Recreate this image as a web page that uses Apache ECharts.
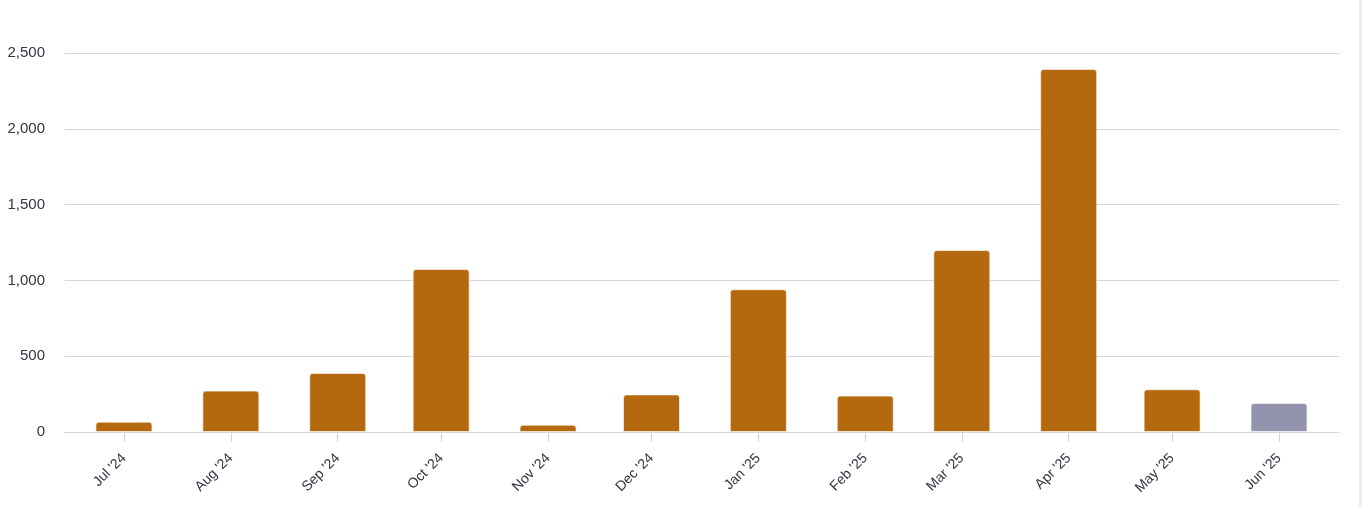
<!DOCTYPE html>
<html>
<head>
<meta charset="utf-8">
<script src="https://cdn.jsdelivr.net/npm/echarts@6/dist/echarts.min.js"></script>
<style>
html,body{margin:0;padding:0;background:#fff;}
#chart{width:1363px;height:507px;}
</style>
</head>
<body>
<div id="chart"></div>
<script>
// Data
const months = ['2024-07','2024-08','2024-09','2024-10','2024-11','2024-12','2025-01','2025-02','2025-03','2025-04','2025-05','2025-06'];
const values = [68, 273, 389, 1075, 48, 248, 942, 240, 1200, 2395, 282, 191];
const monthNames = ['Jan','Feb','Mar','Apr','May','Jun','Jul','Aug','Sep','Oct','Nov','Dec'];
const yTicks = [0, 500, 1000, 1500, 2000, 2500];

const toTs = s => { const [y, m] = s.split('-').map(Number); return Date.UTC(y, m - 1, 1); };
const stamps = months.map(toTs);
const DAY = 86400000;
const lastIdx = months.length - 1;

const chart = echarts.init(document.getElementById('chart'), null, {renderer: 'canvas'});
const labelColor = '#333344';
const lineColor = '#d6d6e2';
chart.setOption({
  animation: false,
  grid: {left: 65, right: 24, top: 53, bottom: 75, containLabel: false},
  xAxis: {
    type: 'value',
    scale: true,
    min: stamps[0] - 17.1 * DAY,
    max: stamps[lastIdx] + 17.4 * DAY,
    axisLine: {show: true, onZero: false, lineStyle: {color: lineColor, width: 1}},
    axisTick: {show: true, customValues: stamps, length: 10, lineStyle: {color: '#cfcfdd'}},
    axisLabel: {
      customValues: stamps,
      rotate: 45,
      color: labelColor,
      fontSize: 14,
      fontFamily: 'Liberation Sans, Arial, sans-serif',
      margin: 24,
      formatter: v => { const d = new Date(v); return monthNames[d.getUTCMonth()] + " '" + String(d.getUTCFullYear()).slice(2); }
    },
    splitLine: {show: false}
  },
  yAxis: {
    type: 'value',
    min: 0, max: yTicks[yTicks.length - 1], interval: 500,
    axisLine: {show: false},
    axisTick: {show: false},
    axisLabel: {
      color: labelColor, fontSize: 15, margin: 20,
      fontFamily: 'Liberation Sans, Arial, sans-serif',
      formatter: v => v.toLocaleString('en-US')
    },
    splitLine: {lineStyle: {color: lineColor, width: 1}}
  },
  series: [{
    type: 'bar',
    barWidth: 57,
    data: stamps.map((t, i) => ({
      value: [t, values[i]],
      itemStyle: {color: i === lastIdx ? '#9393ad' : '#b5690e'}
    })),
    itemStyle: {borderRadius: [3, 3, 0, 0], borderColor: 'rgba(255,255,255,0.6)', borderWidth: 1}
  }],
  graphic: [{
    type: 'rect', shape: {x: 1359, y: 0, width: 3, height: 507},
    style: {fill: '#ececf3'}, silent: true
  }]
});
</script>
</body>
</html>
